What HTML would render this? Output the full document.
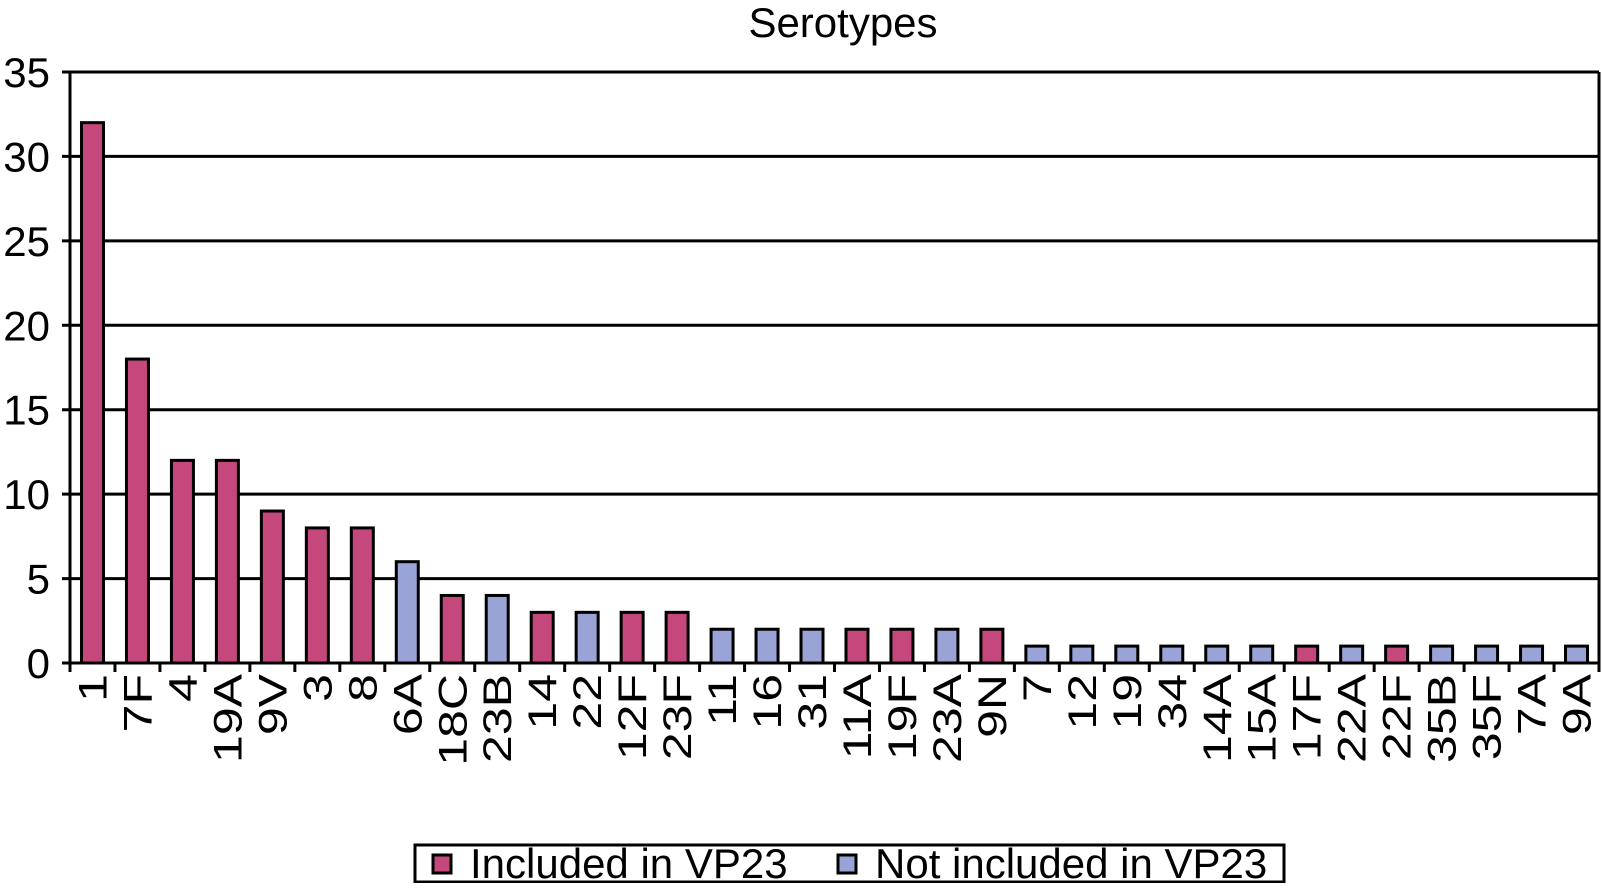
<!DOCTYPE html>
<html><head><meta charset="utf-8"><style>
body{margin:0;background:#fff;width:1602px;height:883px;overflow:hidden}
svg{font-family:"Liberation Sans",sans-serif}
</style></head><body>
<svg id="chart" width="1602" height="883">
<text x="843" y="37" text-anchor="middle" font-size="42">Serotypes</text>
<g id="grid"></g><g id="bars"></g><g id="axes"></g>
<g>
<rect x="415" y="845" width="869" height="37" fill="#fff" stroke="#000" stroke-width="3"/>
<rect x="433" y="855" width="18" height="18" fill="#c4487c" stroke="#000" stroke-width="3"/>
<text x="470" y="878" font-size="42">Included in VP23</text>
<rect x="838" y="855" width="18" height="18" fill="#9aa3d6" stroke="#000" stroke-width="3"/>
<text x="875" y="878" font-size="42">Not included in VP23</text>
</g>
</svg>
<script>
const categories=["1","7F","4","19A","9V","3","8","6A","18C","23B","14","22","12F","23F","11","16","31","11A","19F","23A","9N","7","12","19","34","14A","15A","17F","22A","22F","35B","35F","7A","9A"];
const values=[32,18,12,12,9,8,8,6,4,4,3,3,3,3,2,2,2,2,2,2,2,1,1,1,1,1,1,1,1,1,1,1,1,1];
const included=[1,1,1,1,1,1,1,0,1,0,1,0,1,1,0,0,0,1,1,0,1,0,0,0,0,0,0,1,0,1,0,0,0,0];
const yTicks=[0,5,10,15,20,25,30,35];
const NS='http://www.w3.org/2000/svg';
const X0=70,X1=1599,Y0=663,Y1=72,YMAX=35;
const N=categories.length;
const bw=(X1-X0)/N;
const y=v=>Y0-(Y0-Y1)*v/YMAX;
const xc=i=>X0+bw*(i+0.5);
function mk(t,a,p){const e=document.createElementNS(NS,t);for(const k in a)e.setAttribute(k,a[k]);p.appendChild(e);return e;}
const grid=document.getElementById('grid'),bars=document.getElementById('bars'),axes=document.getElementById('axes');
yTicks.forEach(t=>{
 const l=mk('line',{x1:X0-8,x2:X1,y1:y(t),y2:y(t),stroke:'#000','stroke-width':3},grid);
 
 
 const tx=mk('text',{x:50,y:y(t)+15,'text-anchor':'end','font-size':42},axes);
 tx.textContent=t;
 
 
});
mk('line',{x1:X1,x2:X1,y1:Y1,y2:Y0,stroke:'#000','stroke-width':3},axes);
mk('line',{x1:X0,x2:X0,y1:Y1,y2:Y0+8,stroke:'#000','stroke-width':3},axes);
for(let i=0;i<=N;i++){mk('line',{x1:X0+bw*i,x2:X0+bw*i,y1:Y0,y2:Y0+9,stroke:'#000','stroke-width':3},axes);}
categories.forEach((c,i)=>{
 const r=mk('rect',{x:xc(i)-11,y:y(values[i]),width:22,height:Y0-y(values[i]),fill:included[i]?'#c4487c':'#9aa3d6',stroke:'#000','stroke-width':3},bars);
 
 
 const t=mk('text',{x:0,y:0,'font-size':40,'text-anchor':'end',transform:`translate(${xc(i)+14},674) rotate(-90) scale(1.25,1)`},axes);
 t.textContent=c;
 
 
});
</script>
</body></html>
